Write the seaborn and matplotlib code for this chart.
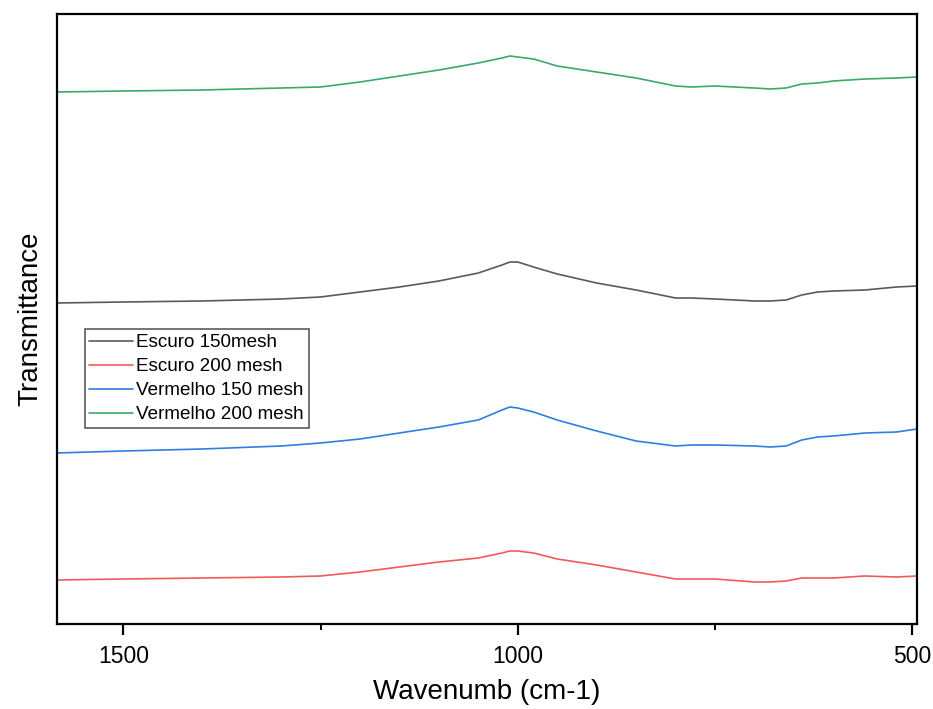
import numpy as np
import pandas as pd
import matplotlib
matplotlib.use("Agg")
import matplotlib.pyplot as plt
import seaborn as sns
from matplotlib.ticker import MultipleLocator

wavenumber = [1584, 1500, 1400, 1300, 1250, 1200, 1150, 1100, 1050, 1020, 1010, 1000, 980, 950,
              900, 850, 800, 780, 750, 700, 680, 660, 640, 620, 600, 560, 520, 494]

# values (arbitrary transmittance units, stacked/offset)
escuro_150 = [303, 302, 301, 299, 297, 292, 287, 281, 273, 265, 262, 262, 267, 274,
              283, 290, 298, 298, 299, 301, 301, 300, 295, 292, 291, 290, 287, 286]
escuro_200 = [580, 579, 578, 577, 576, 572, 567, 562, 558, 553, 551, 551, 553, 559,
              565, 572, 579, 579, 579, 582, 582, 581, 578, 578, 578, 576, 577, 576]
vermelho_150 = [453, 451, 449, 446, 443, 439, 433, 427, 420, 410, 407, 408, 412, 420,
                431, 441, 446, 445, 445, 446, 447, 446, 440, 437, 436, 433, 432, 429]
vermelho_200 = [92, 91, 90, 88, 87, 82, 76, 70, 63, 58, 56, 57, 59, 66,
                72, 78, 86, 87, 86, 88, 89, 88, 84, 83, 81, 79, 78, 77]

series_names = ["Escuro 150mesh", "Escuro 200 mesh", "Vermelho 150 mesh", "Vermelho 200 mesh"]
series_vals = [escuro_150, escuro_200, vermelho_150, vermelho_200]
colors = ["#5a5a5a", "#f25a5a", "#2f7fe0", "#3aaa6a"]

rows = []
for name, vals in zip(series_names, series_vals):
    for w, v in zip(wavenumber, vals):
        rows.append({"Wavenumber": w, "Transmittance": 624 - v, "Sample": name})
df = pd.DataFrame(rows)

sns.set_style("ticks")
plt.rcParams["font.family"] = ["Liberation Sans", "DejaVu Sans"]
plt.rcParams["text.color"] = "black"
plt.rcParams["axes.labelcolor"] = "black"
plt.rcParams["xtick.color"] = "black"
plt.rcParams["ytick.color"] = "black"

fig = plt.figure(figsize=(9.33, 7.09), dpi=100)
ax = fig.add_axes([57 / 933, 1 - 624 / 709, (917 - 57) / 933, (624 - 14) / 709])

sns.lineplot(data=df, x="Wavenumber", y="Transmittance", hue="Sample",
             hue_order=series_names, palette=colors, linewidth=1.2,
             estimator=None, ax=ax)

ax.set_xlim(1584, 494)
ax.set_ylim(0, 610)
ax.xaxis.set_major_locator(MultipleLocator(500))
ax.xaxis.set_minor_locator(MultipleLocator(250))
ax.set_yticks([])
ax.tick_params(axis="x", which="major", length=8, width=1.6, labelsize=16.5, pad=7,
               color="black", labelcolor="black")
ax.tick_params(axis="x", which="minor", length=4, width=1.4, color="black")
for s in ax.spines.values():
    s.set_linewidth(1.6)
    s.set_color("black")
    s.set_visible(True)

ax.set_xlabel("Wavenumb (cm-1)", fontsize=20, labelpad=8, color="black")
ax.set_ylabel("Transmittance", fontsize=20, labelpad=10, color="black")

leg = ax.legend(loc="upper left", bbox_to_anchor=(0.032, 0.483), borderaxespad=0,
                fontsize=13.6, frameon=True, fancybox=False, handlelength=2.3,
                handletextpad=0.2, labelspacing=0.36, borderpad=0.25)
leg.get_frame().set_edgecolor("#333333")
leg.get_frame().set_linewidth(1.2)
for t in leg.get_texts():
    t.set_color("black")

fig.savefig("out.png", dpi=100)
